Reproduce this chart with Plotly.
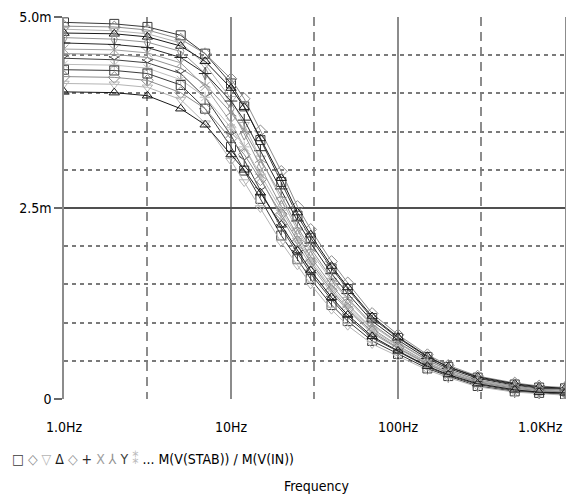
import plotly.graph_objects as go

# Frequency samples (Hz)
freq_hz = [1, 2, 3.16, 5, 7, 10, 12, 15, 20, 25, 30, 40, 50, 70, 100, 150, 200, 300, 500, 700, 1000]

# Monte Carlo runs of M(V(STAB))/M(V(IN)), values in milli-units
run01 = [4.93, 4.91, 4.87, 4.76, 4.52, 4.13, 3.83, 3.39, 2.84, 2.40, 2.11, 1.71, 1.44, 1.06, 0.80, 0.55, 0.42, 0.28, 0.19, 0.15, 0.14]
run02 = [4.88, 4.87, 4.83, 4.71, 4.52, 4.19, 3.93, 3.51, 2.98, 2.52, 2.22, 1.80, 1.52, 1.12, 0.84, 0.58, 0.44, 0.30, 0.21, 0.17, 0.15]
run03 = [4.84, 4.82, 4.78, 4.66, 4.38, 3.93, 3.59, 3.15, 2.61, 2.21, 1.93, 1.55, 1.30, 0.96, 0.73, 0.50, 0.38, 0.24, 0.16, 0.13, 0.11]
run04 = [4.79, 4.78, 4.74, 4.62, 4.42, 4.07, 3.82, 3.41, 2.89, 2.44, 2.15, 1.74, 1.46, 1.08, 0.81, 0.56, 0.42, 0.29, 0.20, 0.16, 0.14]
run05 = [4.73, 4.71, 4.67, 4.55, 4.26, 3.80, 3.47, 3.04, 2.52, 2.14, 1.86, 1.49, 1.24, 0.92, 0.70, 0.48, 0.36, 0.23, 0.15, 0.12, 0.10]
run06 = [4.66, 4.64, 4.60, 4.47, 4.26, 3.90, 3.65, 3.25, 2.75, 2.33, 2.04, 1.64, 1.38, 1.02, 0.77, 0.53, 0.40, 0.27, 0.18, 0.14, 0.13]
run07 = [4.58, 4.57, 4.53, 4.40, 4.09, 3.62, 3.30, 2.89, 2.38, 2.02, 1.75, 1.39, 1.16, 0.86, 0.66, 0.45, 0.34, 0.21, 0.13, 0.10, 0.09]
run08 = [4.52, 4.51, 4.47, 4.33, 4.12, 3.75, 3.51, 3.14, 2.66, 2.25, 1.97, 1.58, 1.32, 0.98, 0.74, 0.51, 0.38, 0.25, 0.17, 0.13, 0.12]
run09 = [4.46, 4.44, 4.40, 4.26, 3.95, 3.45, 3.13, 2.73, 2.24, 1.90, 1.64, 1.30, 1.07, 0.80, 0.62, 0.42, 0.31, 0.19, 0.11, 0.09, 0.07]
run10 = [4.38, 4.37, 4.33, 4.18, 3.95, 3.55, 3.30, 2.94, 2.47, 2.10, 1.82, 1.45, 1.21, 0.90, 0.69, 0.47, 0.35, 0.22, 0.14, 0.11, 0.10]
run11 = [4.31, 4.30, 4.26, 4.11, 3.80, 3.30, 2.99, 2.62, 2.14, 1.83, 1.57, 1.23, 1.02, 0.76, 0.59, 0.40, 0.30, 0.17, 0.10, 0.08, 0.06]
run12 = [4.22, 4.21, 4.17, 4.01, 3.80, 3.41, 3.20, 2.87, 2.42, 2.06, 1.79, 1.42, 1.18, 0.88, 0.67, 0.46, 0.34, 0.22, 0.14, 0.11, 0.09]
run13 = [4.13, 4.12, 4.08, 3.92, 3.61, 3.12, 2.84, 2.50, 2.05, 1.75, 1.50, 1.17, 0.96, 0.72, 0.56, 0.38, 0.28, 0.16, 0.09, 0.07, 0.05]
run14 = [4.02, 4.01, 3.97, 3.80, 3.59, 3.20, 3.00, 2.70, 2.28, 1.94, 1.68, 1.33, 1.10, 0.82, 0.63, 0.43, 0.32, 0.20, 0.12, 0.09, 0.08]
runs = [run01, run02, run03, run04, run05, run06, run07, run08, run09, run10, run11, run12, run13, run14]

# Axis ticks (the last label is right-aligned at the plot edge, drawn as an annotation)
x_tickvals = [1, 10, 100, 1000]
x_ticktext = ["1.0Hz", "10Hz", "100Hz", ""]
x_last_label = "1.0KHz"
x_minorvals = [3.162, 31.62, 316.2]
y_tickvals = [0, 2.5, 5.0]
y_ticktext = ["0", "2.5m", "5.0m"]

# Legend line
legend_symbols = ["□", "◇", "▽", "Δ", "◇", "+", "X", "⅄", "Y", "⁑"]
legend_colors = ["#3a3a3a", "#8a8a8a", "#b4b4b4", "#1a1a1a", "#949494", "#2a2a2a", "#a0a0a0", "#909090", "#404040", "#bcbcbc"]
plotly_symbols = ["square-open", "diamond-open", "triangle-down-open", "triangle-up-open", "diamond-tall-open",
                  "cross-thin-open", "x-thin-open", "y-up-open", "y-down-open", "asterisk-open"]
trace_label = "M(V(STAB)) / M(V(IN))"

FONT = "DejaVu Sans Condensed, sans-serif"
TXT = "#000000"

fig = go.Figure()
for i, vals in enumerate(runs):
    k = i % len(legend_colors)
    c = legend_colors[k]
    fig.add_trace(go.Scatter(
        x=freq_hz, y=vals, mode="lines+markers",
        line=dict(color=c, width=1),
        marker=dict(symbol=plotly_symbols[k], size=9, color=c, line=dict(color=c, width=1)),
        showlegend=False, hoverinfo="skip",
    ))

# overlay axis for the darker 0 and 2.5m lines
fig.add_trace(go.Scatter(x=[1], y=[0], yaxis="y2", mode="markers", marker=dict(opacity=0), showlegend=False, hoverinfo="skip"))

fig.update_layout(
    width=566, height=502,
    margin=dict(l=64, r=1, t=17, b=103),
    paper_bgcolor="white", plot_bgcolor="white",
    showlegend=False,
    font=dict(family=FONT, size=14, color=TXT),
    xaxis=dict(
        type="log", range=[0, 3], automargin=False,
        tickvals=x_tickvals, ticktext=x_ticktext,
        showgrid=True, gridcolor="#8c8c8c", gridwidth=1.5,
        minor=dict(tickvals=x_minorvals, showgrid=True, gridcolor="#8c8c8c", griddash="9px,6px", gridwidth=1.5, ticks=""),
        ticks="", zeroline=False, showline=False,
        ticklabelstandoff=18,
        tickfont=dict(family=FONT, size=14, color=TXT),
    ),
    yaxis=dict(
        range=[0, 5.0], automargin=False,
        tickvals=y_tickvals, ticktext=y_ticktext,
        showgrid=True, gridcolor="#8c8c8c", gridwidth=1.5,
        minor=dict(dtick=0.5, tick0=0, showgrid=True, gridcolor="#7a7a7a", griddash="4px,4px", gridwidth=1.5, ticks=""),
        ticks="outside", ticklen=8, tickwidth=1.5, tickcolor="#6a6a6a",
        zeroline=False, showline=True, mirror=True, linecolor="#8c8c8c", linewidth=1.5,
        tickfont=dict(family=FONT, size=14, color=TXT),
    ),
    yaxis2=dict(
        range=[0, 5.0], overlaying="y", side="left", automargin=False,
        tickvals=[0, 2.5], showticklabels=False, ticks="",
        showgrid=True, gridcolor="#505050", gridwidth=2, zeroline=False, showline=False,
    ),
)

fig.add_annotation(text=x_last_label, xref="paper", yref="paper", x=1.0, y=-(427 - 399) / 382,
                   xanchor="right", yanchor="middle", showarrow=False,
                   font=dict(family=FONT, size=14, color=TXT))

legend_html = " ".join(f"<span style='color:{c}'>{s}</span>" for s, c in zip(legend_symbols, legend_colors))
legend_html += " ... " + trace_label
fig.add_annotation(text=legend_html, xref="paper", yref="paper", x=-54 / 501, y=-(458 - 399) / 382,
                   xanchor="left", yanchor="middle", showarrow=False,
                   font=dict(family=FONT, size=14, color=TXT))
fig.add_annotation(text="Frequency", xref="paper", yref="paper", x=(316 - 64) / 501, y=-(486 - 399) / 382,
                   xanchor="center", yanchor="middle", showarrow=False,
                   font=dict(family=FONT, size=14, color=TXT))

fig.write_html("out.html", config={"displayModeBar": False},
               post_script="document.body.style.margin='0px';document.body.style.overflow='hidden';")
